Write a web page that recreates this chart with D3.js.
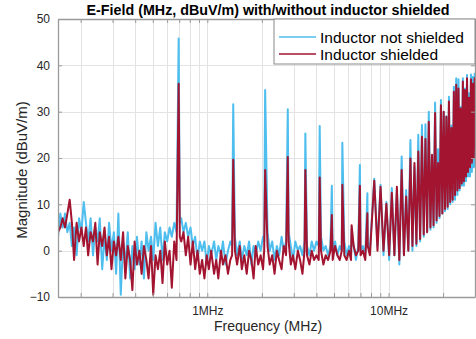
<!DOCTYPE html>
<html>
<head>
<meta charset="utf-8">
<script src="https://cdn.jsdelivr.net/npm/d3@7"></script>
<style>
  body { margin: 0; background: #fff; }
  svg { display: block; font-family: "Liberation Sans", Arial, sans-serif; }
</style>
</head>
<body>
<svg id="chart"></svg>
<script>
// sweep points between harmonics (MHz) and measured levels (dBuV/m)
const freqMHz = [
  0.150, 0.1545, 0.159, 0.164, 0.169, 0.174, 0.179, 0.184, 0.190, 0.196,
  0.202, 0.208, 0.214, 0.220, 0.227, 0.234, 0.241, 0.248, 0.255, 0.263,
  0.271, 0.279, 0.287, 0.296, 0.305, 0.314, 0.323, 0.333, 0.343, 0.353,
  0.364, 0.375, 0.386, 0.397, 0.409, 0.422, 0.434, 0.447, 0.461, 0.474,
  0.489, 0.503, 0.518, 0.534, 0.550, 0.566, 0.583, 0.601, 0.619, 0.637,
  0.657, 0.676, 0.705, 0.718, 0.739, 0.761, 0.784, 0.808, 0.832, 0.857,
  0.883, 0.909, 0.936, 0.964, 0.993, 1.02, 1.05, 1.09, 1.12, 1.15,
  1.19, 1.22, 1.26, 1.30, 1.34, 1.37, 1.42, 1.46, 1.51, 1.55,
  1.60, 1.65, 1.70, 1.75, 1.80, 1.85, 1.91, 1.97, 2.03, 2.06,
  2.15, 2.21, 2.28, 2.35, 2.42, 2.49, 2.57, 2.64, 2.72, 2.81,
  2.89, 2.97, 3.06, 3.16, 3.25, 3.35, 3.44, 3.55, 3.66, 3.77,
  3.88, 4.00, 4.12, 4.24, 4.37, 4.50, 4.64, 4.78, 4.92, 5.07,
  5.22, 5.38, 5.52, 5.70, 5.87, 6.05, 6.21, 6.42, 6.61, 6.81,
  7.01, 7.22, 7.44, 7.68, 7.89,
  8.69, 9.38, 10.08, 10.77, 11.47, 12.16, 12.86, 13.55, 14.25, 14.94,
  15.64, 16.33, 17.03, 17.72, 18.42, 19.11, 19.81, 20.50, 21.20, 21.89,
  22.59, 23.28, 23.98, 24.67, 25.37, 26.06, 26.76, 27.45, 28.15, 28.84,
  29.54, 30.0
];
const notShieldedDb = [
  3, 8, 5, 8, 4, 6, 1, 5, -1, 7,
  4, 10.5, 6, 2, 7, -1, 5, 2, 7, -4,
  3, -2, 6, 0, 4, -5, 8, -9.5, 2, -3,
  4, -6, 1, -4, 3, -3, 2, -6, 4, 0,
  3, -2, 6, 1, 5, -2, 4, 2, 5, 3,
  6, 4, 6, 7, 4, 6, 3, 5, 1, 3,
  -2, 2, 0, 2, -3, 1, -1, 2, -2, 1,
  -1, 2, -3, 0, 2, 1, 3, -1, 2, -2,
  1, -1, 2, -3, 1, -1, 2, 0, 3, 2,
  4, 0, 2, -2, 1, -1, 3, 0, 2, 4,
  1, -2, 2, 0, 1, -1, 2, 1, -1, 2,
  0, 2, 1, 3, 0, 1, -1, 1, 0, 2,
  -1, 1, 0, 2, -1, 1, -1, 1, -2, 1,
  0, 1, -1, 2, 0,
  1, -1, -2, -1, -3, -1, 0, 0, 1, 2,
  3, 4, 4.5, 5, 6, 7, 8, 8.5, 9, 10,
  10.5, 11, 12, 13, 14, 14, 15, 16, 16, 17,
  18, 18
];
const shieldedDb = [
  4, 5, 7, 5, 8, 11, 6, -2, 6, 2,
  5, 1, 5, -1, 4, 2, 6, -3, 4, 1,
  5, -1, 3, -4, 2, -1, 3, -2, 4, -6,
  1, -2, -8.5, 2, -3, 0, -5, 1, -2, -6,
  1, -9.5, -1, -4, 0, -7, 2, -3, 0, -8,
  2, -2, 3, 2, 4, -1, 3, -3, 2, -4,
  0, -5, -2, -6, -1, -4, 0, -5, -2, -6,
  0, -3, -1, -5, -2, -1, 0, -3, 1, -4,
  -1, -5, 0, -2, -6, 1, -3, -1, -4, 0,
  1, -3, -1, -5, 0, -2, -4, 1, -1, 2,
  -3, -1, -4, 0, -2, -5, 0, -1, -3, 0,
  -2, -1, -2, 0, -3, -1, -2, 0, -2, 1,
  -1, -2, 0, -1, -2, 0, -2, 1, -1, 0,
  -1, 0, -2, 1, -1,
  0, 0, -1, -1, -2, -1, 0, 1, 1.5, 2.5,
  3.5, 4, 5, 5.5, 6.5, 7.5, 8, 9, 9.5, 10.5,
  11, 12, 13, 13.5, 14.5, 15, 16, 17, 18, 19,
  20, 22
];

// switching harmonics (MHz) and their peak levels
const harmonicMHz = [
  0.695, 1.39, 2.085, 2.78, 3.475, 4.17, 4.865, 5.56, 6.255, 6.95,
  7.645, 8.34, 9.035, 9.73, 10.425, 11.12, 11.815, 12.51, 13.205, 13.9,
  14.595, 15.29, 15.985, 16.68, 17.375, 18.07, 18.765, 19.46, 20.155, 20.85,
  21.545, 22.24, 22.935, 23.63, 24.325, 25.02, 25.715, 26.41, 27.105, 27.8,
  28.495, 29.19, 29.885
];
const harmonicNotShieldedDb = [
  45.8, 31.6, 34.7, 30.5, 25.3, 26.9, 14.0, 23.3, 4.5, 18.5,
  12.4, 15.5, 14.2, 10.5, 13.5, 13.0, 20.3, 13.1, 23.9, 18.0,
  25.0, 27.1, 27.3, 30.0, 20.5, 32.0, 21.9, 32.5, 30.0, 29.0,
  33.2, 27.0, 35.4, 37.2, 37.0, 31.0, 37.2, 35.0, 37.9, 34.0,
  38.0, 37.5, 38.2
];
const harmonicShieldedDb = [
  36.0, 19.6, 17.4, 20.2, 17.4, 15.8, 7.7, 14.2, 5.5, 14.0,
  8.1, 15.1, 13.8, 10.1, 12.5, 13.8, 17.4, 11.7, 19.9, 18.9,
  21.4, 24.6, 24.1, 27.8, 20.7, 29.7, 18.9, 31.4, 30.0, 28.9,
  32.2, 26.5, 34.3, 35.8, 35.0, 30.7, 36.5, 34.7, 37.2, 33.0,
  37.0, 36.0, 37.2
];

const yTicks = [-10, 0, 10, 20, 30, 40, 50];
const xGridMHz = [0.2, 0.3, 0.4, 0.5, 0.6, 0.7, 0.8, 0.9, 1, 2, 3, 4, 5, 6, 7, 8, 9, 10, 20, 30];
const xLabels = { 1: "1MHz", 10: "10MHz" };
const seriesNames = ["Inductor not shielded", "Inductor shielded"];
const seriesColors = ["#4DBEEE", "#A2142F"];

const width = 476, height = 339;
const plot = { left: 58, right: 475, top: 19, bottom: 297 };

const svg = d3.select("#chart").attr("width", width).attr("height", height);

const x = d3.scaleLog().domain([0.15, 30]).range([plot.left, plot.right]);
const y = d3.scaleLinear().domain([-10, 50]).range([plot.bottom, plot.top]);

// merge sweep points with harmonic peaks, ordered by frequency
function series(base, peaks) {
  const pts = freqMHz.map((f, i) => ({ f: f, v: base[i] }))
    .concat(harmonicMHz.map((f, i) => ({ f: f, v: peaks[i] })));
  return pts.sort((a, b) => a.f - b.f);
}
const data = [
  series(notShieldedDb, harmonicNotShieldedDb),
  series(shieldedDb, harmonicShieldedDb)
];

// grid
const grid = svg.append("g").attr("stroke", "#e3e3e3").attr("stroke-width", 1);
grid.selectAll(".vg").data(xGridMHz).enter().append("line")
  .attr("x1", d => Math.round(x(d)) + 0.5).attr("x2", d => Math.round(x(d)) + 0.5)
  .attr("y1", plot.top).attr("y2", plot.bottom);
grid.selectAll(".hg").data(yTicks).enter().append("line")
  .attr("x1", plot.left).attr("x2", plot.right)
  .attr("y1", d => Math.round(y(d)) + 0.5).attr("y2", d => Math.round(y(d)) + 0.5);

// traces
svg.append("clipPath").attr("id", "clip").append("rect")
  .attr("x", plot.left).attr("y", plot.top)
  .attr("width", plot.right - plot.left).attr("height", plot.bottom - plot.top);

const line = d3.line().x(d => x(d.f)).y(d => y(d.v));
svg.append("g").attr("clip-path", "url(#clip)")
  .selectAll("path").data(data).enter().append("path")
  .attr("d", line)
  .attr("fill", "none")
  .attr("stroke", (d, i) => seriesColors[i])
  .attr("stroke-width", 2)
  .attr("stroke-linejoin", "round");

// axes
const axisColor = "#9a9a9a";
const xAxis = d3.axisBottom(x).tickValues(xGridMHz).tickSizeInner(-4).tickSizeOuter(0)
  .tickPadding(9).tickFormat(d => xLabels[d] || "");
const gx = svg.append("g").attr("transform", `translate(0,${plot.bottom})`).call(xAxis);
const gxTop = svg.append("g").attr("transform", `translate(0,${plot.top})`)
  .call(d3.axisTop(x).tickValues(xGridMHz).tickSizeInner(-4).tickSizeOuter(0).tickFormat(""));
const yAxis = d3.axisLeft(y).tickValues(yTicks).tickSizeInner(-4).tickSizeOuter(0).tickPadding(8);
const gy = svg.append("g").attr("transform", `translate(${plot.left},0)`).call(yAxis);
const gyRight = svg.append("g").attr("transform", `translate(${plot.right},0)`)
  .call(d3.axisRight(y).tickValues(yTicks).tickSizeInner(-4).tickSizeOuter(0).tickFormat(""));

[gx, gxTop, gy, gyRight].forEach(g => {
  g.select(".domain").attr("stroke", axisColor).attr("stroke-width", 1.3);
  g.selectAll(".tick line").attr("stroke", axisColor);
  g.selectAll(".tick text").attr("fill", "#262626").style("font-size", "12px")
    .style("font-family", '"Liberation Sans", Arial, sans-serif');
});

// labels
svg.append("text")
  .attr("x", 268).attr("y", 15)
  .attr("text-anchor", "middle").attr("font-weight", "bold")
  .attr("font-size", 14.3).attr("fill", "#000")
  .text("E-Field (MHz, dBuV/m) with/without inductor shielded");

svg.append("text")
  .attr("x", 268).attr("y", 331)
  .attr("text-anchor", "middle").attr("font-size", 14).attr("fill", "#262626")
  .text("Frequency (MHz)");

svg.append("text")
  .attr("transform", "translate(27,170) rotate(-90)")
  .attr("text-anchor", "middle").attr("font-size", 15).attr("fill", "#262626")
  .text("Magnitude (dBuV/m)");

// legend
const legend = svg.append("g").attr("transform", "translate(274,19)");
legend.append("rect").attr("width", 201).attr("height", 45)
  .attr("fill", "#fff").attr("stroke", "#8a8a8a").attr("stroke-width", 1);
const item = legend.selectAll(".item").data(seriesNames).enter().append("g")
  .attr("transform", (d, i) => `translate(0,${18 + i * 17})`);
item.append("line").attr("x1", 5).attr("x2", 42).attr("y1", 0).attr("y2", 0)
  .attr("stroke", (d, i) => seriesColors[i]).attr("stroke-width", 1.5);
item.append("text").attr("x", 46).attr("y", 5.5)
  .attr("font-size", 15.5).attr("fill", "#000").text(d => d);
</script>
</body>
</html>
